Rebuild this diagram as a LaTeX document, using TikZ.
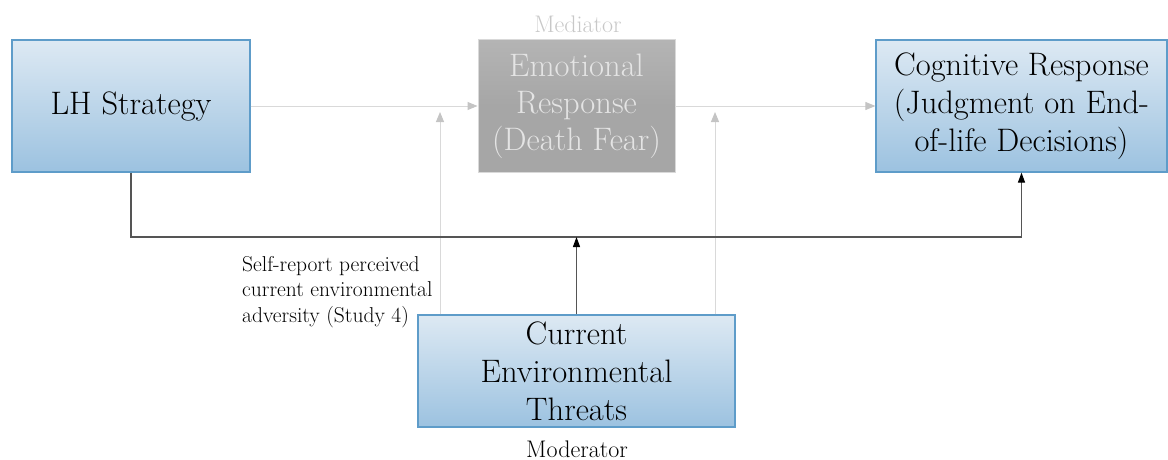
\documentclass[tikz,border=0pt]{standalone}
\usetikzlibrary{arrows.meta}
\definecolor{bluetop}{HTML}{DDE9F3}
\definecolor{bluebot}{HTML}{9CC2E0}
\definecolor{blueedge}{HTML}{5E9CC9}
\definecolor{emofill}{HTML}{A6A6A6}
\definecolor{emotop}{HTML}{B4B4B4}
\definecolor{emotext}{HTML}{E4E4E4}
\definecolor{lightline}{HTML}{D9D9D9}
\definecolor{lighthead}{HTML}{C4C4C4}
\definecolor{medtext}{HTML}{C8C8C8}
\definecolor{darkline}{HTML}{555555}
\tikzset{
  bluebox/.style={draw=blueedge, line width=1.2pt, top color=bluetop, bottom color=bluebot,
    align=center, inner sep=0pt, font=\fontsize{32.5}{38}\selectfont},
  emobox/.style={draw=lightline, line width=1pt, top color=emotop, bottom color=emofill,
    middle color=emofill, text=emotext, align=center, inner sep=0pt, font=\fontsize{32.5}{37}\selectfont},
  garrow/.style={draw=lightline, line width=1pt, -{Triangle[length=10pt,width=8pt,color=lighthead]}},
  barrow/.style={draw=darkline, line width=1.2pt, -{Triangle[length=10pt,width=7pt,color=black]}},
  smalltext/.style={font=\fontsize{21.5}{25.5}\selectfont, align=left, inner sep=0pt},
  labeltext/.style={font=\fontsize{24}{28}\selectfont, inner sep=0pt}
}
\begin{document}
\begin{tikzpicture}[x=1pt,y=1pt]
\useasboundingbox (0,0) rectangle (1168,-460);
\node[bluebox, minimum width=238pt, minimum height=132pt] (lh) at (131,-106) {LH Strategy};
\node[emobox, minimum width=197pt, minimum height=132pt] (emo) at (576.5,-106) {Emotional\\Response\\(Death Fear)};
\node[bluebox, minimum width=291pt, minimum height=132pt] (cog) at (1021.5,-106) {Cognitive Response\\(Judgment on End-\\of-life Decisions)};
\node[bluebox, minimum width=317pt, minimum height=112pt] (cet) at (576.5,-371) {Current\\Environmental\\Threats};
\node[labeltext, text=medtext] (med) at (578,-24) {Mediator};
\node[labeltext] (mod) at (577,-449) {Moderator};
\node[smalltext, anchor=west] (self) at (242,-292) {Self-report perceived\\current environmental\\adversity (Study 4)};
\coordinate (m1) at (440,-112);
\coordinate (m2) at (715,-112);
\coordinate (j) at (576.5,-237);
\draw[garrow] (lh.east |- emo.west) -- (emo.west);
\draw[garrow] (emo.east) -- (cog.west);
\draw[garrow] (cet.north -| m1) -- (m1);
\draw[garrow] (cet.north -| m2) -- (m2);
\draw[barrow] (lh.south) |- (j) -| (cog.south);
\draw[barrow] (cet.north) -- (j);
\end{tikzpicture}
\end{document}
